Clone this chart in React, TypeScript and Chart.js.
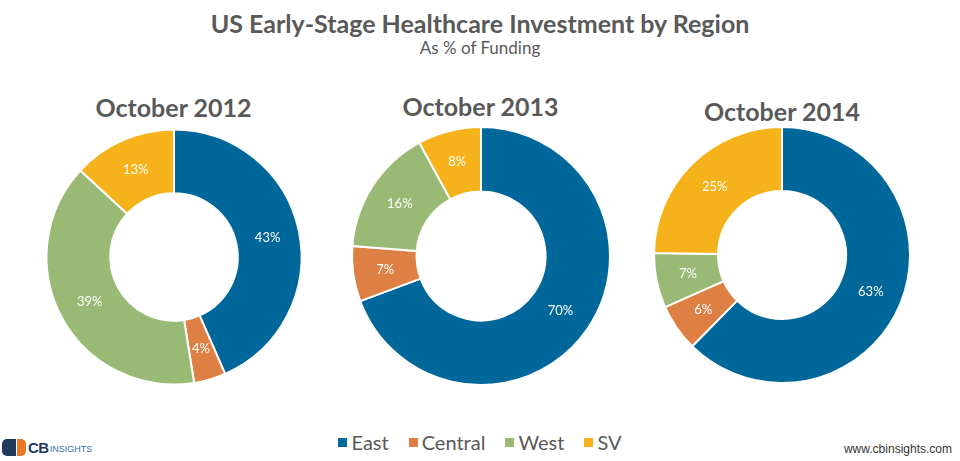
import React, { useEffect, useRef } from "react";
import { Chart, registerables } from "chart.js";

Chart.register(...registerables);

const regions = ["East", "Central", "West", "SV"];
const colors = ["#00679A", "#DE8044", "#98BA75", "#F5B21A"];
const periods = ["October 2012", "October 2013", "October 2014"];
const values2012 = [43, 4, 39, 13];
const values2013 = [70, 7, 16, 8];
const values2014 = [63, 6, 7, 25];
const seriesValues = [values2012, values2013, values2014];

const TEXT = "#595959";

const labelPlugin = {
  id: "sliceLabels",
  afterDatasetsDraw(chart: any) {
    const ctx = chart.ctx;
    const meta = chart.getDatasetMeta(0);
    const data = chart.data.datasets[0].data;
    ctx.save();
    ctx.fillStyle = "#ffffff";
    ctx.font = "13px Lato, 'Open Sans', sans-serif";
    ctx.textAlign = "center";
    ctx.textBaseline = "middle";
    meta.data.forEach((el: any, i: number) => {
      const p = el.getCenterPoint();
      ctx.fillText(data[i] + "%", p.x, p.y);
    });
    ctx.restore();
  },
};

const layouts = [
  { cx: 173.5, cy: 256.5, r: 127.5, ty: 107 },
  { cx: 480.5, cy: 256, r: 129, ty: 106 },
  { cx: 782, cy: 255, r: 128, ty: 111 },
];

const SIZE = 280;

function Donut({ idx }: { idx: number }) {
  const ref = useRef<HTMLCanvasElement | null>(null);
  const lay = layouts[idx];
  useEffect(() => {
    if (!ref.current) return;
    const chart = new Chart(ref.current, {
      type: "doughnut",
      data: {
        labels: regions,
        datasets: [
          {
            data: seriesValues[idx],
            backgroundColor: colors,
            borderColor: "#ffffff",
            borderWidth: 2,
          },
        ],
      },
      options: {
        responsive: false,
        animation: false,
        radius: lay.r,
        cutout: "50%",
        layout: { padding: 0 },
        plugins: {
          legend: { display: false },
          tooltip: { enabled: false },
          title: { display: false },
        },
      } as any,
      plugins: [labelPlugin],
    });
    return () => chart.destroy();
  }, [idx]);
  return (
    <>
      <div
        style={{
          position: "absolute",
          left: lay.cx - 150,
          width: 300,
          top: lay.ty - 16,
          height: 32,
          lineHeight: "32px",
          textAlign: "center",
          fontFamily: "Lato, sans-serif",
          fontWeight: 700,
          fontSize: 25,
          color: TEXT,
        }}
      >
        {periods[idx]}
      </div>
      <canvas
        ref={ref}
        width={SIZE}
        height={SIZE}
        style={{
          position: "absolute",
          left: lay.cx - SIZE / 2,
          top: lay.cy - SIZE / 2,
          width: SIZE,
          height: SIZE,
        }}
      />
    </>
  );
}

export default function App() {
  return (
    <div
      style={{
        position: "absolute",
        left: 0,
        top: 0,
        width: 960,
        height: 461,
        background: "#ffffff",
        overflow: "hidden",
        fontFamily: "Lato, sans-serif",
      }}
    >
      <div
        style={{
          position: "absolute",
          left: 0,
          width: 960,
          top: 6,
          textAlign: "center",
          fontSize: 25,
          fontWeight: 700,
          color: TEXT,
          lineHeight: "34px",
        }}
      >
        US Early-Stage Healthcare Investment by Region
      </div>
      <div
        style={{
          position: "absolute",
          left: 0,
          width: 960,
          top: 37,
          textAlign: "center",
          fontSize: 17,
          color: TEXT,
          lineHeight: "22px",
        }}
      >
        As % of Funding
      </div>
      {[0, 1, 2].map((i) => (
        <Donut key={i} idx={i} />
      ))}
      <div
        style={{
          position: "absolute",
          left: 0,
          width: 960,
          top: 428,
          height: 28,
          display: "flex",
          justifyContent: "center",
          alignItems: "center",
          fontSize: 20,
          color: TEXT,
        }}
      >
        {regions.map((r, i) => (
          <div key={r} style={{ display: "flex", alignItems: "center", marginRight: i < 3 ? 20 : 0 }}>
            <span
              style={{
                display: "inline-block",
                width: 9,
                height: 9,
                background: colors[i],
                marginRight: 4,
              }}
            />
            <span>{r}</span>
          </div>
        ))}
      </div>
      <div style={{ position: "absolute", left: 2, top: 437, height: 20, display: "flex", alignItems: "center" }}>
        <span style={{ display: "inline-block", width: 14, height: 17, background: "#1F3A5C", borderRadius: "5px 0 0 5px" }} />
        <span style={{ display: "inline-block", width: 9, height: 17, background: "#E87722", borderRadius: "0 5px 5px 0", marginLeft: 1, marginRight: 2 }} />
        <span style={{ fontFamily: "Arial, 'Liberation Sans', sans-serif", fontWeight: 700, fontSize: 15, color: "#1F3A5C", letterSpacing: -0.5 }}>CB</span>
        <span style={{ fontFamily: "'Liberation Sans Narrow', Arial, sans-serif", fontSize: 9, color: "#2D6FA6", marginLeft: 1, marginTop: 3 }}>INSIGHTS</span>
      </div>
      <div
        style={{
          position: "absolute",
          right: 8,
          top: 442,
          fontFamily: "Arial, 'Liberation Sans', sans-serif",
          fontSize: 12,
          color: "#333333",
        }}
      >
        www.cbinsights.com
      </div>
    </div>
  );
}
